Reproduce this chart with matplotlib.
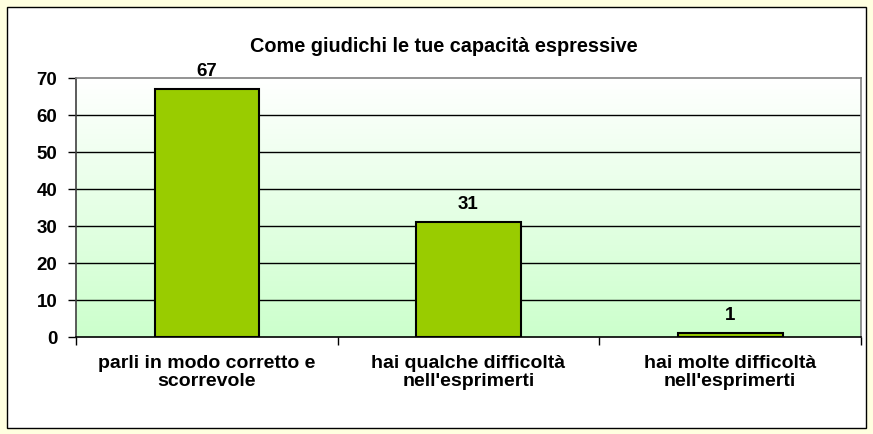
import numpy as np
import matplotlib
matplotlib.use("Agg")
import matplotlib.pyplot as plt
from matplotlib.patches import Rectangle
from matplotlib.colors import LinearSegmentedColormap

# dati del grafico
categorie = ["parli in modo corretto e\nscorrevole",
             "hai qualche difficoltà\nnell'esprimerti",
             "hai molte difficoltà\nnell'esprimerti"]
valori = [67, 31, 1]
tick_y = [0, 10, 20, 30, 40, 50, 60, 70]
titolo = "Come giudichi le tue capacità espressive"

plt.rcParams['font.family'] = ['Liberation Sans', 'DejaVu Sans']
plt.rcParams['font.weight'] = 'bold'

W, H = 873, 435
fig = plt.figure(figsize=(W / 100, H / 100), dpi=100)
fig.patch.set_facecolor('#FFFFE0')

# riquadro bianco del grafico
fig.patches.append(Rectangle((7 / W, 1 - 429 / H), 859 / W, 421 / H,
                             transform=fig.transFigure, facecolor='white',
                             edgecolor='black', linewidth=1.0, zorder=-5))

ax = fig.add_axes([76 / W, 1 - 338 / H, 785 / W, 259 / H])
ax.set_facecolor('none')

x = np.arange(len(valori))
ax.set_xlim(-0.5, len(valori) - 0.5)
ax.set_ylim(0, 70)

# sfondo sfumato bianco -> verde chiaro
cmap = LinearSegmentedColormap.from_list('sf', ['#CCFFCC', '#FFFFFF'])
grad = np.linspace(0, 1, 256).reshape(-1, 1)
ax.imshow(grad, cmap=cmap, aspect='auto', origin='lower',
          extent=(-0.5, len(valori) - 0.5, 0, 70), zorder=0)

for y in tick_y[1:-1]:
    ax.axhline(y, color='black', linewidth=1.0, zorder=1)

ax.bar(x, valori, width=0.4, color='#99CC00', edgecolor='black',
       linewidth=1.5, zorder=2)

for xi, v in zip(x, valori):
    ax.annotate(str(v), (xi, v), xytext=(0, 7.5), textcoords='offset points',
                ha='center', va='bottom', fontsize=13.5, fontweight='bold')

ax.set_yticks(tick_y)
ax.set_yticklabels([str(t) for t in tick_y], fontsize=13.5, fontweight='bold')
ax.set_xticks(x)
ax.set_xticklabels(categorie, fontsize=14, fontweight='bold',
                   linespacing=1.12)
ax.tick_params(axis='x', length=0, pad=12)
ax.tick_params(axis='y', length=6, width=1, pad=7.5)

# tacche dell'asse x ai confini delle categorie
ax.set_xticks(np.arange(-0.5, len(valori), 1.0), minor=True)
ax.tick_params(axis='x', which='minor', length=6, width=1, color='black')

ax.spines['left'].set_color('#404040')
ax.spines['bottom'].set_color('black')
ax.spines['top'].set_color('#808080')
ax.spines['right'].set_color('#808080')
for s in ax.spines.values():
    s.set_linewidth(1.2)

fig.text(444 / W, 1 - 46 / H, titolo, ha='center', va='center',
         fontsize=14.3, fontweight='bold')

fig.savefig('out.png', dpi=100, facecolor=fig.get_facecolor())
